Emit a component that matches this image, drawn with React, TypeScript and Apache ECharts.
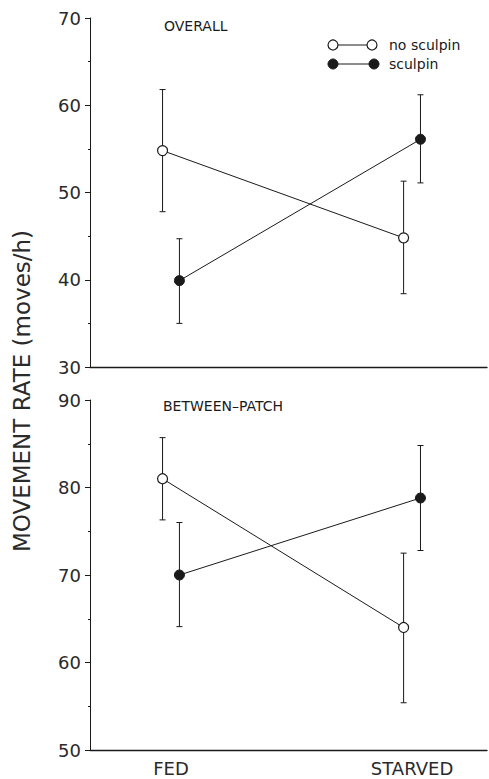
import React, { useEffect, useRef } from "react";
import * as echarts from "echarts";

const categories = ["FED", "STARVED"];
const categoryPositions = [1, 2];
const dodge = 0.035;

// Overall panel
const overallNoSculpin = [54.8, 44.8];
const overallNoSculpinHigh = [61.8, 51.3];
const overallNoSculpinLow = [47.8, 38.4];
const overallSculpin = [39.9, 56.1];
const overallSculpinHigh = [44.7, 61.2];
const overallSculpinLow = [35.0, 51.1];

// Between-patch panel
const betweenNoSculpin = [81.0, 64.0];
const betweenNoSculpinHigh = [85.7, 72.5];
const betweenNoSculpinLow = [76.3, 55.4];
const betweenSculpin = [70.0, 78.8];
const betweenSculpinHigh = [76.0, 84.8];
const betweenSculpinLow = [64.1, 72.8];

const topTicks = [30, 40, 50, 60, 70];
const bottomTicks = [50, 60, 70, 80, 90];

const INK = "#1a1a1a";
const FONT = "DejaVu Sans";

function pts(vals: number[], off: number) {
  return vals.map((v, i) => [categoryPositions[i] + off, v]);
}
function bars(lo: number[], hi: number[], off: number) {
  return lo.map((l, i) => [categoryPositions[i] + off, l, hi[i]]);
}

const renderErr = (params: any, api: any) => {
  const x = api.value(0);
  const pLo = api.coord([x, api.value(1)]);
  const pHi = api.coord([x, api.value(2)]);
  const c = 3;
  const st = { stroke: INK, lineWidth: 1 };
  return {
    type: "group",
    children: [
      { type: "line", shape: { x1: pLo[0], y1: pLo[1], x2: pHi[0], y2: pHi[1] }, style: st },
      { type: "line", shape: { x1: pLo[0] - c, y1: pLo[1], x2: pLo[0] + c, y2: pLo[1] }, style: st },
      { type: "line", shape: { x1: pHi[0] - c, y1: pHi[1], x2: pHi[0] + c, y2: pHi[1] }, style: st },
    ],
  };
};

export default function App() {
  const ref = useRef<HTMLDivElement>(null);
  useEffect(() => {
    if (!ref.current) return;
    const chart = echarts.init(ref.current, null, { renderer: "svg" });
    const xMin = 0.664;
    const xMax = 2.311;
    const yAxisCommon = (min: number, max: number, ticks: number[], gi: number) => ({
      type: "value",
      gridIndex: gi,
      min,
      max,
      interval: 10,
      axisLine: { show: true, onZero: false, lineStyle: { color: INK, width: 1 } },
      axisTick: { show: true, inside: false, length: 5, lineStyle: { color: INK } },
      minorTick: { show: true, splitNumber: 2, length: 2, lineStyle: { color: INK } },
      splitLine: { show: false },
      axisLabel: {
        show: true,
        fontFamily: FONT,
        fontSize: 18,
        color: "#2a2a2a",
        margin: 9,
        formatter: (v: number) => (ticks.includes(v) ? String(v) : ""),
      },
    });
    const series: any[] = [];
    const addPanel = (
      gi: number,
      noS: number[], noSH: number[], noSL: number[],
      s: number[], sH: number[], sL: number[]
    ) => {
      series.push({
        type: "custom", xAxisIndex: gi, yAxisIndex: gi, z: 1,
        renderItem: renderErr, encode: { x: 0, y: [1, 2] },
        data: bars(noSL, noSH, -dodge),
      });
      series.push({
        type: "custom", xAxisIndex: gi, yAxisIndex: gi, z: 1,
        renderItem: renderErr, encode: { x: 0, y: [1, 2] },
        data: bars(sL, sH, dodge),
      });
      series.push({
        name: "no sculpin", type: "line", xAxisIndex: gi, yAxisIndex: gi, z: 3,
        data: pts(noS, -dodge), symbol: "circle", symbolSize: 10,
        lineStyle: { color: INK, width: 1 },
        itemStyle: { color: "#ffffff", borderColor: INK, borderWidth: 1.2 },
      });
      series.push({
        name: "sculpin", type: "line", xAxisIndex: gi, yAxisIndex: gi, z: 3,
        data: pts(s, dodge), symbol: "circle", symbolSize: 10,
        lineStyle: { color: INK, width: 1 },
        itemStyle: { color: INK, borderColor: INK, borderWidth: 1 },
      });
    };
    addPanel(0, overallNoSculpin, overallNoSculpinHigh, overallNoSculpinLow,
      overallSculpin, overallSculpinHigh, overallSculpinLow);
    addPanel(1, betweenNoSculpin, betweenNoSculpinHigh, betweenNoSculpinLow,
      betweenSculpin, betweenSculpinHigh, betweenSculpinLow);

    chart.setOption({
      animation: false,
      backgroundColor: "#ffffff",
      grid: [
        { left: 90, right: 2, top: 18, height: 349 },
        { left: 90, right: 2, top: 400, height: 350 },
      ],
      xAxis: [
        {
          type: "value", gridIndex: 0, min: xMin, max: xMax,
          axisLine: { show: true, onZero: false, lineStyle: { color: INK, width: 1.3 } },
          axisTick: { show: false }, axisLabel: { show: false }, splitLine: { show: false },
        },
        {
          type: "value", gridIndex: 1, min: xMin, max: xMax,
          axisLine: { show: true, onZero: false, lineStyle: { color: INK, width: 1.3 } },
          axisTick: { show: false }, splitLine: { show: false },
          axisLabel: {
            show: true,
            customValues: categoryPositions,
            formatter: (v: number) => categories[categoryPositions.indexOf(v)] ?? "",
            fontFamily: FONT, fontSize: 18, color: "#2a2a2a", margin: 9,
          },
        },
      ],
      yAxis: [yAxisCommon(30, 70, topTicks, 0), yAxisCommon(50, 90, bottomTicks, 1)],
      series,
      graphic: [
        {
          type: "text", x: 22, y: 391, rotation: Math.PI / 2,
          style: {
            text: "MOVEMENT RATE (moves/h)", fontFamily: FONT, fontSize: 23,
            fill: "#2a2a2a", textAlign: "center", textVerticalAlign: "middle",
          },
        },
        {
          type: "text", x: 164, y: 26,
          style: { text: "OVERALL", fontFamily: FONT, fontSize: 14, fill: INK, textVerticalAlign: "middle" },
        },
        {
          type: "text", x: 163, y: 406,
          style: { text: "BETWEEN\u2013PATCH", fontFamily: FONT, fontSize: 14, fill: INK, textVerticalAlign: "middle" },
        },
        { type: "line", shape: { x1: 333, y1: 45, x2: 372, y2: 45 }, style: { stroke: INK, lineWidth: 1 } },
        { type: "circle", shape: { cx: 333, cy: 45, r: 5 }, style: { fill: "#fff", stroke: INK, lineWidth: 1.2 } },
        { type: "circle", shape: { cx: 372, cy: 45, r: 5 }, style: { fill: "#fff", stroke: INK, lineWidth: 1.2 } },
        {
          type: "text", x: 389, y: 45,
          style: { text: "no sculpin", fontFamily: FONT, fontSize: 14, fill: INK, textVerticalAlign: "middle" },
        },
        { type: "line", shape: { x1: 333, y1: 64, x2: 374, y2: 64 }, style: { stroke: INK, lineWidth: 1 } },
        { type: "circle", shape: { cx: 333, cy: 64, r: 5 }, style: { fill: INK, stroke: INK, lineWidth: 1 } },
        { type: "circle", shape: { cx: 374, cy: 64, r: 5 }, style: { fill: INK, stroke: INK, lineWidth: 1 } },
        {
          type: "text", x: 389, y: 64,
          style: { text: "sculpin", fontFamily: FONT, fontSize: 14, fill: INK, textVerticalAlign: "middle" },
        },
      ],
    });
    return () => chart.dispose();
  }, []);
  return (
    <div
      ref={ref}
      style={{ position: "fixed", left: 0, top: 0, width: 489, height: 779, background: "#fff" }}
    />
  );
}
